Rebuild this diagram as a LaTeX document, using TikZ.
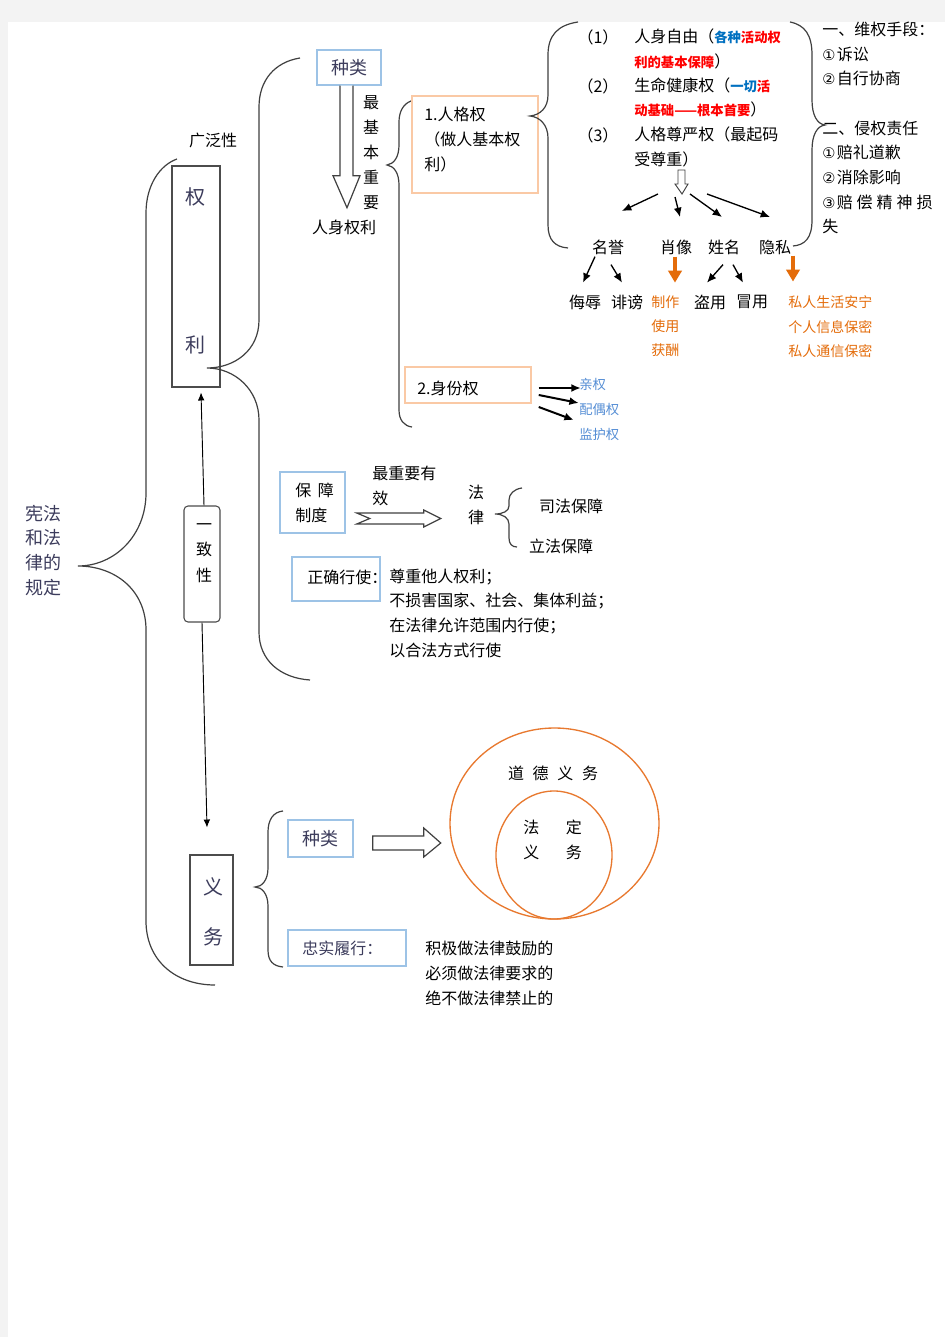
\documentclass[tikz,border=0pt]{standalone}
\usepackage{fontspec}
\setmainfont{Noto Sans CJK SC}
\newfontfamily\symfont{DejaVu Sans}
\usetikzlibrary{arrows.meta,shapes.geometric}

\definecolor{boxblue}{HTML}{9DC3E6}
\definecolor{boxorange}{HTML}{FAC9A5}
\definecolor{ringorange}{HTML}{E8792F}
\definecolor{txtorange}{HTML}{E46C0A}
\definecolor{txtred}{HTML}{FF0000}
\definecolor{txtblue}{HTML}{0070C0}
\definecolor{linkblue}{HTML}{558ED5}
\definecolor{inkblue}{HTML}{3C3C5C}
\definecolor{pagegray}{HTML}{F3F3F3}

\tikzset{
  txt/.style={inner sep=0pt, font=\fontsize{12}{18.75}\selectfont},
  sm/.style={inner sep=0pt, font=\fontsize{10.5}{18}\selectfont},
  bluebox/.style={draw=boxblue, line width=1.1pt, inner sep=0pt},
  orangebox/.style={draw=boxorange, line width=1.1pt, inner sep=0pt},
  graybox/.style={draw=black!70, line width=0.8pt, inner sep=0pt},
  brc/.style={draw=black!75, line width=0.9pt},
  hollow/.style={draw=black!75, line width=0.9pt, fill=white},
  blk/.style={-{Latex[length=7pt,width=6pt]}, line width=1pt},
  tarr/.style={-{Latex[length=6pt,width=5pt]}, line width=0.7pt},
  oarr/.style={-{Triangle[length=9pt,width=10pt]}, line width=3pt, draw=txtorange},
  ring/.style={ellipse, draw=ringorange, line width=1pt, inner sep=0pt}
}

\newcommand{\cnum}[1]{{\symfont\fontsize{11}{11}\selectfont #1}\hspace{1pt}}
\newcommand{\redbf}[1]{{\fontsize{10}{10}\selectfont\bfseries\color{txtred}#1}}
\newcommand{\bluebf}[1]{{\fontsize{10}{10}\selectfont\bfseries\color{txtblue}#1}}

\begin{document}
\begin{tikzpicture}[x=0.75pt,y=-0.75pt]
  \useasboundingbox (0,0) rectangle (945,1337);
  \fill[pagegray] (0,0) rectangle (945,1337);
  \fill[white] (8,22) rectangle (945,1337);

  \node[txt, font=\fontsize{13.5}{18.5}\selectfont, text=inkblue, align=left, anchor=base west] (xf) at (25,594) {宪法\\和法\\律的\\规定};
  \draw[brc] (177,159) .. controls (160,165) and (146,185) .. (146,213) -- (146,493) .. controls (146,535) and (115,566) .. (78,566) .. controls (115,566) and (146,590) .. (146,630) -- (146,921) .. controls (146,960) and (175,985) .. (215,985);

  \node[txt] (gfx) at (213,140) {广泛性};
  \node[graybox, minimum width=36pt, minimum height=165.75pt] (ql) at (196,276.5) {};
  \node[txt, font=\fontsize{15}{15}\selectfont, text=inkblue] (quan) at (195,197) {权};
  \node[txt, font=\fontsize{15}{15}\selectfont, text=inkblue] (li) at (195,345) {利};
  \draw[brc] (300,58) .. controls (275,62) and (259,80) .. (259,107) -- (259,320) .. controls (259,350) and (235,368) .. (207,368) .. controls (235,368) and (259,390) .. (259,420) -- (259,632) .. controls (259,660) and (280,678) .. (310,680);

  \node[graybox, rounded corners=3pt, minimum width=27pt, minimum height=87pt] (yzx) at (202,564) {};
  \node[txt, align=center, anchor=base, font=\fontsize{12}{19}\selectfont] (yzxt) at (204,581) {一\\致\\性};
  \draw[tarr] (yzx.north) ++(2,0) -- ++(-3,-113);
  \draw[tarr] (yzx.south) -- ++(5,205);
  \node[graybox, minimum width=32.25pt, minimum height=82.5pt] (yw) at (211.5,910) {};
  \node[txt, font=\fontsize{15}{15}\selectfont, text=inkblue] (yi) at (213,887) {义};
  \node[txt, font=\fontsize{15}{15}\selectfont, text=inkblue] (wu) at (213,937) {务};

  \node[bluebox, minimum width=48pt, minimum height=26.25pt, font=\fontsize{13.5}{13.5}\selectfont, text=inkblue] (zl) at (349,67.5) {种类};
  \draw[hollow] (zl.south) ++(-9,0) -- ++(0,90) -- ++(-7,0) -- ++(14,32) -- ++(13,-32) -- ++(-7,0) -- ++(0,-90);
  \node[txt, align=center, anchor=base] (zjb) at (371,209) {最\\基\\本\\重\\要};
  \node[txt] (rsql) at (344,227) {人身权利};
  \draw[brc] (411,101) .. controls (403,104) and (399,112) .. (399,122) -- (399,145) .. controls (399,157) and (394,164) .. (387,165) .. controls (394,166) and (399,173) .. (399,185) -- (399,410) .. controls (399,420) and (404,426) .. (412,427);

  \node[orangebox, minimum width=94.5pt, minimum height=72.75pt] (rgq) at (475,144.5) {};
  \node[txt, align=left, anchor=base west] (rgqt) at (424,171) {1.人格权\\（做人基本权\\利）};
  \draw[brc] (578,22) .. controls (558,25) and (548,35) .. (548,55) -- (548,95) .. controls (548,108) and (540,115) .. (530,116) .. controls (540,117) and (548,125) .. (548,138) -- (548,225) .. controls (548,240) and (555,247) .. (568,248);

  \node[txt] (n1) at (598,37) {（1）};
  \node[txt, align=left, anchor=base west] (rszy) at (634,68) {人身自由（\bluebf{各种}\redbf{活动权}\\\redbf{利的基本保障}）};
  \node[txt] (n2) at (598,86) {（2）};
  \node[txt, align=left, anchor=base west, font=\fontsize{12}{18}\selectfont] (smjk) at (634,116) {生命健康权（\bluebf{一切}\redbf{活}\\\redbf{动基础——根本首要}）};
  \node[txt] (n3) at (598,135) {（3）};
  \node[txt, align=left, anchor=base west] (rgzy) at (634,166) {人格尊严权（最起码\\受尊重）};

  \coordinate (fan) at (682,194);
  \draw[hollow, line width=0.7pt] (fan) ++(-4,-24) -- ++(0,14) -- ++(-3,0) -- ++(7,10) -- ++(6,-10) -- ++(-3,0) -- ++(0,-14) -- cycle;
  \draw[blk] (fan) ++(-24,0) -- ++(-36,17);
  \draw[blk] (fan) ++(-7,3) -- ++(5,20);
  \draw[blk] (fan) ++(8,0) -- ++(32,23);
  \draw[blk] (fan) ++(25,0) -- ++(63,23);

  \node[txt] (my) at (608,247) {名誉};
  \node[txt] (xx) at (676,247) {肖像};
  \node[txt] (xm) at (724,247) {姓名};
  \node[txt] (ys) at (775,247) {隐私};
  \draw[brc] (790,22) .. controls (805,25) and (812,35) .. (812,55) -- (812,100) .. controls (812,115) and (817,124) .. (825,125) .. controls (817,126) and (812,135) .. (812,150) -- (812,220) .. controls (812,238) and (805,245) .. (793,246);

  \draw[blk] (my.south) ++(-13,2) -- ++(-12,26);
  \draw[blk] (my.south) ++(3,10) -- ++(11,18);
  \node[txt] (wr) at (585,302) {侮辱};
  \node[txt] (fb) at (627,302) {诽谤};
  \draw[oarr] (xx.south) ++(-1,2) -- ++(0,26);
  \node[sm, text=txtorange, align=left, anchor=base west] (zz) at (651,355) {制作\\使用\\获酬};
  \draw[blk] (xm.south) ++(-1,10) -- ++(-16,18);
  \draw[blk] (xm.south) ++(9,10) -- ++(10,18);
  \node[txt] (dy) at (710,302) {盗用};
  \node[txt] (my2) at (752,302) {冒用};
  \draw[oarr] (ys.south) ++(18,1) -- ++(0,26);
  \node[sm, text=txtorange, align=left, anchor=base west] (srsh) at (788,356) {私人生活安宁\\个人信息保密\\私人通信保密};

  \node[txt, align=left, anchor=base west, font=\fontsize{12}{18.5}\selectfont] (wq) at (822,233) {一、维权手段：\\\cnum{①}诉讼\\\cnum{②}自行协商\\[18.5pt]二、侵权责任\\\cnum{①}赔礼道歉\\\cnum{②}消除影响\\\cnum{③}赔\hspace{3pt}偿\hspace{3pt}精\hspace{3pt}神\hspace{3pt}损\\失};

  \node[orangebox, minimum width=94.5pt, minimum height=27pt] (sfq) at (468,385) {};
  \node[txt, anchor=west] (sfqt) at (417,388) {2.身份权};
  \draw[blk, line width=1.5pt] (sfq.east) ++(7,3) -- ++(42,0);
  \draw[blk, line width=1.5pt] (sfq.east) ++(7,10) -- ++(40,8);
  \draw[blk, line width=1.5pt] (sfq.east) ++(7,22) -- ++(35,13);
  \node[sm, font=\fontsize{10}{18.4}\selectfont, text=linkblue, align=left, anchor=base west] (qq) at (579,439) {亲权\\配偶权\\监护权};

  \node[bluebox, minimum width=48.75pt, minimum height=45.75pt] (bz) at (312.5,502.5) {};
  \node[txt, align=left, anchor=base west] (bzt) at (295,521) {保\hspace{5pt}障\\制度};
  \node[txt, align=left, anchor=base west] (zzy) at (372,504) {最重要有\\效};
  \draw[hollow] (bz.east) ++(11,10.5) -- ++(67,0) -- ++(0,-3) -- ++(17,8.5) -- ++(-17,8.5) -- ++(0,-3) -- ++(-67,0) -- ++(13,-5.5) -- cycle;
  \node[txt, align=center, anchor=base] (fl) at (476,523) {法\\律};
  \draw[brc] (522,488) .. controls (514,489) and (509,494) .. (509,500) -- (509,506) .. controls (509,511) and (503,514) .. (495,514) .. controls (503,514) and (509,518) .. (509,524) -- (509,538) .. controls (509,544) and (512,547) .. (517,547);
  \node[txt] (sf) at (571,506) {司法保障};
  \node[txt] (lf) at (561,546) {立法保障};

  \node[bluebox, minimum width=66pt, minimum height=33pt] (zq) at (336,579) {};
  \node[txt, anchor=west] (zqt) at (307,577) {正确行使：};
  \node[txt, align=left, anchor=base west, font=\fontsize{12}{18.5}\selectfont] (zzqr) at (389,656) {尊重他人权利；\\不损害国家、社会、集体利益；\\在法律允许范围内行使；\\以合法方式行使};

  \draw[brc] (283,811) .. controls (273,812) and (268,820) .. (268,832) -- (268,868) .. controls (268,880) and (262,887) .. (255,887) .. controls (262,887) and (268,894) .. (268,906) -- (268,950) .. controls (268,961) and (273,966) .. (283,967);
  \node[bluebox, minimum width=48.75pt, minimum height=27.75pt, font=\fontsize{13.5}{13.5}\selectfont, text=inkblue] (zl2) at (320.5,838.5) {种类};
  \draw[hollow] (zl2.east) ++(19,-2.5) -- ++(51,0) -- ++(0,-8) -- ++(17,15) -- ++(-17,14) -- ++(0,-7) -- ++(-51,0) -- cycle;
  \node[ring, minimum width=156.75pt, minimum height=143.25pt] (ddyw) at (554.5,823.5) {};
  \node[ring, minimum width=87pt, minimum height=96pt] (fdyw) at (554,855) {};
  \node[txt] (ddt) at (553,773) {道\hspace{6.5pt}德\hspace{6.5pt}义\hspace{6.5pt}务};
  \node[txt, align=left, anchor=base west] (fdt) at (523,858) {法\hspace{20pt}定\\义\hspace{20pt}务};
  \node[bluebox, minimum width=88.5pt, minimum height=27pt] (zs) at (347,948) {};
  \node[txt, text=inkblue, anchor=west] (zst) at (302,948) {忠实履行：};
  \node[txt, align=left, anchor=base west] (jj) at (425,1004) {积极做法律鼓励的\\必须做法律要求的\\绝不做法律禁止的};
\end{tikzpicture}
\end{document}
